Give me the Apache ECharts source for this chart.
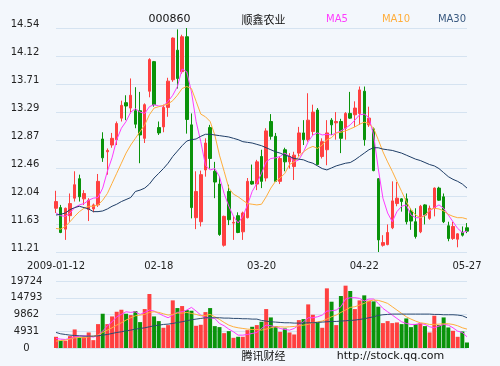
<!DOCTYPE html>
<html><head><meta charset="utf-8">
<script src="https://cdn.jsdelivr.net/npm/echarts@6/dist/echarts.min.js"></script>
<style>html,body{margin:0;padding:0;background:#f3f7fc;}#c{width:500px;height:366px;}</style>
</head><body><div id="c"></div>
<script>
const dates = ['2009-01-12','2009-01-13','2009-01-14','2009-01-15','2009-01-16','2009-01-19','2009-01-20','2009-01-21','2009-01-22','2009-01-23',
'2009-02-02','2009-02-03','2009-02-04','2009-02-05','2009-02-06','2009-02-09','2009-02-10','2009-02-11','2009-02-12','2009-02-13','2009-02-16','2009-02-17','2009-02-18',
'2009-02-19','2009-02-20','2009-02-23','2009-02-24','2009-02-25','2009-02-26','2009-02-27',
'2009-03-02','2009-03-03','2009-03-04','2009-03-05','2009-03-06','2009-03-09','2009-03-10','2009-03-11','2009-03-12','2009-03-13','2009-03-16','2009-03-17','2009-03-18','2009-03-19','2009-03-20',
'2009-03-23','2009-03-24','2009-03-25','2009-03-26','2009-03-27','2009-03-30','2009-03-31',
'2009-04-01','2009-04-02','2009-04-03','2009-04-07','2009-04-08','2009-04-09','2009-04-10','2009-04-13','2009-04-14','2009-04-15','2009-04-16','2009-04-17','2009-04-20','2009-04-21','2009-04-22',
'2009-04-23','2009-04-24','2009-04-27','2009-04-28','2009-04-29',
'2009-05-05','2009-05-06','2009-05-07','2009-05-08','2009-05-11','2009-05-12','2009-05-13','2009-05-14','2009-05-15','2009-05-18','2009-05-19','2009-05-20','2009-05-21','2009-05-22','2009-05-25','2009-05-26','2009-05-27'];

const opens = [11.86,11.87,11.55,11.75,12.01,12.30,12.00,11.84,11.85,11.91,
12.89,12.70,12.80,12.88,13.20,13.43,13.35,13.31,13.31,12.90,
13.60,14.04,13.06,13.07,13.36,13.77,14.21,13.89,14.41,13.10,
11.72,11.66,12.43,13.06,12.41,12.22,11.31,12.11,11.64,11.75,
11.51,11.72,12.26,12.22,12.63,12.31,13.15,12.93,12.26,12.73,
12.55,12.48,12.68,12.98,12.88,13.00,13.32,12.63,12.73,13.17,
13.13,13.15,13.05,13.27,13.25,13.27,13.60,13.10,13.04,12.30,
11.31,11.32,11.57,11.93,12.00,12.00,11.82,11.66,11.51,11.91,
11.71,11.86,12.16,12.03,11.60,11.41,11.40,11.50,11.57];
const closes = [11.96,11.50,11.86,11.93,12.21,12.03,12.08,11.98,11.91,12.26,
12.61,12.72,12.90,13.12,13.39,13.38,13.54,13.11,12.95,13.40,
14.07,13.40,12.98,13.36,13.75,14.39,13.79,14.41,13.18,11.87,
12.11,12.36,12.83,12.60,12.25,11.47,11.74,11.69,11.65,11.50,
11.79,12.26,12.22,12.55,12.26,13.01,12.93,12.26,12.60,12.55,
12.63,12.65,12.98,12.88,13.17,13.29,12.51,12.85,12.98,13.10,
13.15,12.90,13.27,13.20,13.35,13.62,12.88,13.20,12.42,11.39,
11.35,11.50,11.97,12.01,11.96,11.66,11.67,11.44,11.89,11.76,
11.86,12.16,11.98,11.66,11.41,11.59,11.48,11.46,11.52];
const lows = [11.79,11.49,11.39,11.66,11.96,11.96,11.91,11.67,11.80,11.88,
12.55,12.36,12.76,12.80,13.15,13.17,13.27,13.05,12.53,12.83,
13.51,13.37,12.95,12.99,13.22,13.74,13.64,13.86,12.97,11.71,
11.55,11.59,12.33,12.45,12.01,11.45,11.29,11.61,11.39,11.49,
11.39,11.71,12.21,12.13,12.16,12.26,12.88,12.25,12.22,12.41,
12.45,12.28,12.63,12.80,12.85,12.95,12.50,12.60,12.50,12.95,
12.88,12.68,12.88,13.19,13.07,13.10,12.79,13.07,12.41,11.21,
11.29,11.31,11.55,11.89,11.81,11.62,11.54,11.41,11.49,11.62,
11.69,11.74,11.97,11.64,11.37,11.39,11.28,11.44,11.49];
const highs = [12.12,11.91,11.87,12.08,12.41,12.36,12.13,12.01,11.93,12.37,
12.99,12.75,12.98,13.15,13.46,13.54,13.79,13.66,13.59,13.42,
14.09,14.05,13.15,13.40,13.80,14.40,14.52,14.44,14.54,13.27,
12.41,12.42,12.90,13.10,12.55,12.33,11.75,12.21,11.74,11.80,
11.81,12.31,12.51,12.58,12.73,13.05,13.26,12.98,12.63,12.76,
12.68,12.70,13.07,13.17,13.57,13.40,13.35,12.90,13.17,13.20,
13.29,13.19,13.29,13.59,13.45,13.67,13.67,13.37,13.06,12.31,
11.46,11.62,12.26,12.25,12.01,12.08,11.86,11.86,11.91,11.92,
11.90,12.17,12.18,12.08,11.66,11.66,11.49,11.59,11.64];

const ma5 = [11.79,11.75,11.74,11.79,11.87,11.91,11.93,11.98,12.01,12.02,
12.16,12.41,12.61,12.88,13.05,13.15,13.29,13.34,13.29,13.27,
13.37,13.40,13.38,13.38,13.45,13.54,13.67,13.93,13.89,13.59,
13.15,12.85,12.50,12.43,12.45,12.33,12.08,11.89,11.74,11.64,
11.74,11.91,12.11,12.23,12.38,12.55,12.60,12.61,12.63,12.68,
12.63,12.55,12.58,12.70,12.85,12.95,12.98,12.95,12.96,12.95,
12.98,13.01,13.05,13.10,13.17,13.25,13.26,13.21,12.95,12.45,
12.01,11.79,11.66,11.81,11.89,11.91,11.76,11.72,11.72,11.76,
11.82,11.87,11.91,11.86,11.76,11.66,11.56,11.50,11.52];
const ma10 = [11.56,11.55,11.59,11.66,11.74,11.81,11.86,11.89,11.89,11.91,
11.98,12.08,12.23,12.38,12.53,12.68,12.80,12.90,13.00,13.10,
13.25,13.35,13.37,13.39,13.41,13.46,13.54,13.64,13.67,13.64,
13.45,13.26,13.22,13.15,12.95,12.65,12.41,12.16,12.07,12.03,
11.98,11.93,11.92,11.91,11.92,12.03,12.16,12.26,12.31,12.38,
12.51,12.55,12.63,12.70,12.75,12.78,12.75,12.80,12.88,12.91,
12.98,12.99,13.01,13.04,13.07,13.11,13.14,13.12,13.05,12.88,
12.70,12.55,12.41,12.26,12.11,11.96,11.84,11.76,11.72,11.75,
11.84,11.86,11.85,11.82,11.77,11.74,11.72,11.72,11.70];
const ma30 = [11.76,11.77,11.79,11.84,11.87,11.89,11.87,11.85,11.81,11.81,
11.82,11.85,11.89,11.92,11.96,11.99,12.02,12.11,12.13,12.16,
12.22,12.31,12.38,12.45,12.53,12.63,12.71,12.79,12.86,12.88,
12.89,12.93,12.96,12.96,12.95,12.94,12.93,12.92,12.90,12.88,
12.85,12.84,12.83,12.81,12.79,12.76,12.73,12.70,12.68,12.65,
12.63,12.60,12.59,12.58,12.55,12.53,12.49,12.45,12.43,12.46,
12.49,12.51,12.53,12.54,12.58,12.63,12.68,12.73,12.76,12.76,
12.74,12.73,12.72,12.70,12.68,12.65,12.62,12.59,12.57,12.54,
12.51,12.49,12.45,12.39,12.33,12.29,12.26,12.22,12.16];

const volumes = [3294,2113,2113,3491,5459,3097,3294,4573,2310,7033,
10084,7033,9296,10674,11264,10084,9690,10871,7624,11461,
15889,9296,7919,5951,6738,14020,11756,12347,11166,10969,
6541,6836,10576,11756,6443,6148,4376,4967,2998,3294,
3294,5262,6246,6738,7722,11461,9001,6443,4770,5754,
4573,3983,8214,8509,12839,9788,7525,5951,17562,13626,
6738,15299,18349,16774,11461,14020,15496,13921,13724,12150,
7328,7919,7328,7525,7033,8706,6148,7033,7328,6443,
4573,9493,6738,9001,6050,5065,3294,4868,1621];
const volMa5 = [2802,2605,2507,2802,3294,3491,3590,3491,3196,3786,
4967,6541,7722,9198,9887,10674,10477,10674,9887,10477,
11166,10871,10182,9493,8903,9690,10477,10674,11166,11953,
10871,9690,8903,8903,8706,7230,6541,5557,4770,3786,
3786,3983,4278,4573,5754,6738,6541,6246,5754,5459,
5262,5754,6738,7722,8903,8903,9198,9690,10871,10969,
11166,12150,14413,14807,14807,14610,13823,14413,14413,13134,
11658,10674,9690,8706,7722,7230,6935,6935,7230,6935,
6246,5951,6443,6935,6738,5951,4967,4573,3294];
const volMa10 = [2015,2212,2310,2605,2998,3097,2998,3294,3491,3786,
4573,5262,5951,6738,7427,8214,8903,9493,9690,9887,
10477,10674,10477,10084,9690,9887,10280,10280,10477,10182,
9887,9493,9592,9887,9198,8411,7525,6738,6246,5951,
5754,5557,5459,5459,5262,5557,5951,6246,6246,6148,
6246,6344,6541,6738,6935,7427,7722,7919,8509,9198,
9690,10477,11166,11953,12150,12642,13134,13823,14118,14020,
13626,13134,12150,11166,10182,9198,8509,7919,7427,7230,
6935,6935,7033,7132,7132,6935,6541,5951,5557];
const volMa30 = [4573,4180,3983,3786,3688,3590,3491,3491,3491,3590,
3786,3983,4278,4573,4770,5065,5262,5557,5754,5951,
6246,6541,6738,6935,7033,7230,7525,7722,8017,8312,
8509,8706,8903,8903,8903,8903,8804,8804,8706,8706,
8608,8608,8509,8509,8116,7919,7722,7624,7525,7427,
7427,7328,7328,7328,7427,7427,7525,7624,7722,7820,
7820,7919,8017,8116,8214,8411,8608,8903,9198,9592,
9788,9887,9985,9985,9985,9985,9985,9985,9985,9985,
9985,9887,9887,9788,9788,9788,9690,9493,8903];

const priceTicks = ['11.21','11.63','12.04','12.46','12.87','13.29','13.71','14.12','14.54'];
const volTicks = ['0','4931','9862','14793','19724'];
const priceMin = 11.21, priceMax = 14.54;
const volMax = 19724, volStep = 4931;

const UP = '#ff4040', DOWN = '#0a930a';
const C5 = '#ff3cff', C10 = '#ffae3c', C30 = '#1e3d66';
const GRID = '#d5e3f1';
const FONT = 'DejaVu Sans';

const chart = echarts.init(document.getElementById('c'), null, {renderer: 'canvas'});
const candles = dates.map((d, i) => [opens[i], closes[i], lows[i], highs[i]]);
const volData = volumes.map((v, i) => ({value: v, itemStyle: {color: closes[i] >= opens[i] ? UP : DOWN}}));
const lineS = (name, data, color, xi, yi) => ({
  name, type: 'line', data, xAxisIndex: xi, yAxisIndex: yi, symbol: 'none', showSymbol: false,
  lineStyle: {width: 1, color}, itemStyle: {color}, z: 5, silent: true, clip: false
});
const txt = (text, x, y, font, fill) => ({type: 'text', x, y,
  style: {text, align: 'center', verticalAlign: 'middle', font, fill}});

chart.setOption({
  backgroundColor: '#f3f7fc',
  animation: false,
  grid: [
    {left: 56, right: 33, top: 28, height: 224},
    {left: 56, right: 33, top: 281, height: 67}
  ],
  xAxis: [
    {type: 'category', gridIndex: 0, data: dates, boundaryGap: false,
     axisLine: {show: false}, axisTick: {show: false}, splitLine: {show: false},
     axisLabel: {interval: 21, margin: 9, fontSize: 10, fontFamily: FONT, color: '#222',
       formatter: (v, i) => i === 0 ? v : v.slice(5)}},
    {type: 'category', gridIndex: 1, data: dates, boundaryGap: false,
     axisLine: {show: false}, axisTick: {show: false}, axisLabel: {show: false}, splitLine: {show: false}}
  ],
  yAxis: [
    {type: 'value', gridIndex: 0, min: priceMin, max: priceMax, show: false, scale: true},
    {type: 'value', gridIndex: 0, min: 0, max: priceTicks.length - 1, interval: 1, position: 'left',
     axisLine: {show: false}, axisTick: {show: false},
     splitLine: {show: true, lineStyle: {color: GRID, width: 1}},
     axisLabel: {margin: 31, align: 'center', verticalAlign: 'bottom', lineHeight: 8, fontSize: 10, fontFamily: FONT, color: '#222',
       formatter: v => priceTicks[v]}},
    {type: 'value', gridIndex: 1, min: 0, max: volMax, interval: volStep, position: 'left',
     axisLine: {show: false}, axisTick: {show: false},
     splitLine: {show: true, lineStyle: {color: GRID, width: 1}},
     axisLabel: {margin: 29.5, align: 'center', fontSize: 10, fontFamily: FONT, color: '#222',
       formatter: v => volTicks[Math.round(v / volStep)]}}
  ],
  series: [
    {type: 'candlestick', xAxisIndex: 0, yAxisIndex: 0, data: candles, barWidth: 3, clip: false,
     itemStyle: {color: UP, color0: DOWN, borderColor: UP, borderColor0: DOWN, borderWidth: 1}},
    lineS('MA5', ma5, C5, 0, 0),
    lineS('MA10', ma10, C10, 0, 0),
    lineS('MA30', ma30, C30, 0, 0),
    {type: 'bar', xAxisIndex: 1, yAxisIndex: 2, data: volData, barWidth: 4, clip: false},
    lineS('VMA5', volMa5, C5, 1, 2),
    lineS('VMA10', volMa10, C10, 1, 2),
    lineS('VMA30', volMa30, '#2c4a70', 1, 2)
  ],
  graphic: [
    txt('000860', 169.5, 19.5, '11px "DejaVu Sans"', '#111'),
    txt('顺鑫农业', 263.5, 19.5, '11px "Noto Sans CJK SC"', '#111'),
    txt('MA5', 337, 19.5, '10px "DejaVu Sans"', C5),
    txt('MA10', 396, 19.5, '10px "DejaVu Sans"', C10),
    txt('MA30', 452, 19.5, '10px "DejaVu Sans"', '#3a5a80'),
    txt('腾讯财经', 263.5, 356, '11px "Noto Sans CJK SC"', '#111'),
    txt('http://stock.qq.com', 390.5, 356, '11px "DejaVu Sans"', '#111')
  ]
});
</script></body></html>
